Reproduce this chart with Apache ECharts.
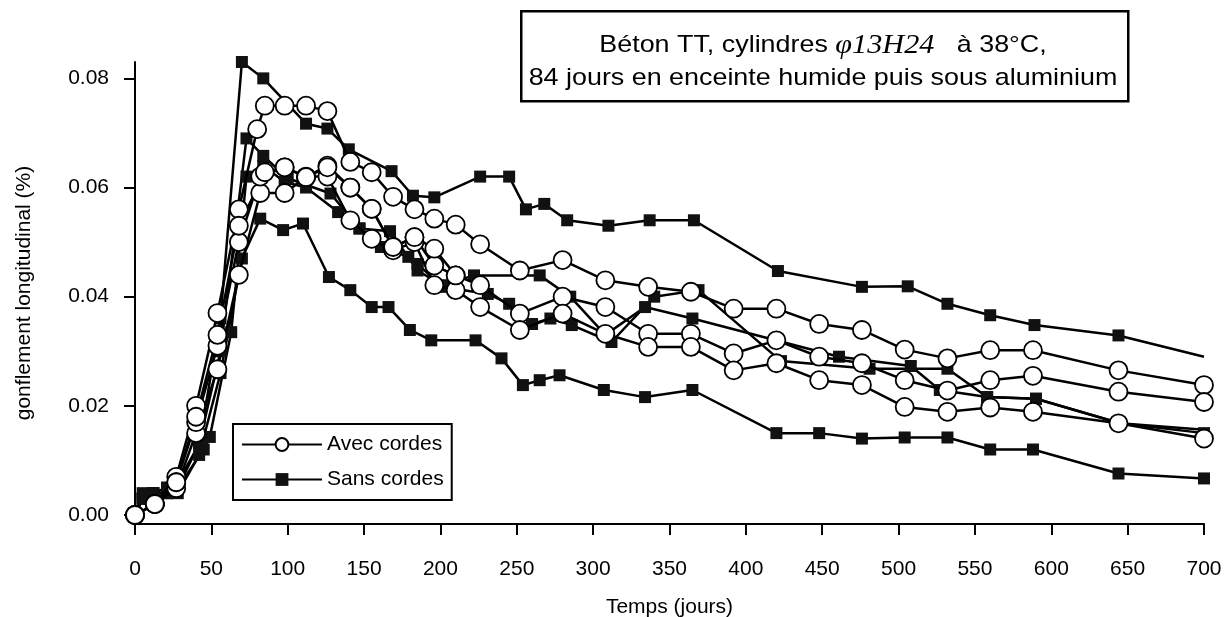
<!DOCTYPE html>
<html>
<head>
<meta charset="utf-8">
<script src="https://cdn.jsdelivr.net/npm/echarts@6/dist/echarts.min.js"></script>
<style>
html,body{margin:0;padding:0;background:#fff;}
#main{width:1231px;height:617px;}
</style>
</head>
<body>
<div id="main"></div>
<script>
// [jours, gonflement %]
var avec1 = [[0,0],[13,0.002],[27,0.007],[40,0.020],[54,0.037],[68,0.056],[80,0.0707],[85,0.075],[98,0.075],[112,0.075],[126,0.074],[141,0.0647],[155,0.0628],[169,0.0583],[183,0.056],[196,0.0543],[210,0.0532],[226,0.0496],[252,0.0448],[280,0.0467],[308,0.043],[336,0.0418],[364,0.0409],[392,0.0378],[420,0.0378],[448,0.035],[476,0.0339],[504,0.0303],[532,0.0287],[560,0.0302],[588,0.0302],[644,0.0265],[700,0.0238]];
var avec2 = [[0,0],[13,0.002],[27,0.0049],[40,0.015],[54,0.0267],[68,0.044],[82,0.059],[98,0.059],[112,0.0619],[126,0.064],[141,0.060],[155,0.0561],[169,0.0491],[183,0.0509],[196,0.0457],[210,0.0439],[226,0.0421],[252,0.0369],[280,0.040],[308,0.0381],[336,0.0332],[364,0.0332],[392,0.0296],[420,0.032],[448,0.029],[476,0.0278],[504,0.0247],[532,0.0228],[560,0.0247],[588,0.0255],[644,0.0226],[700,0.0207]];
var avec3 = [[0,0],[13,0.002],[27,0.006],[40,0.017],[54,0.031],[68,0.05],[82,0.062],[98,0.0637],[112,0.062],[126,0.062],[141,0.054],[155,0.0506],[169,0.0485],[183,0.05],[196,0.0421],[210,0.0412],[226,0.0381],[252,0.0339],[280,0.0369],[308,0.0332],[336,0.0308],[364,0.0308],[392,0.0265],[420,0.0278],[448,0.0247],[476,0.0238],[504,0.0198],[532,0.0189],[560,0.0197],[588,0.0189],[644,0.0168],[700,0.014]];
var avec4 = [[0,0],[13,0.002],[27,0.006],[40,0.018],[54,0.033],[68,0.053],[85,0.0628],[98,0.0637],[112,0.0619],[126,0.0637],[141,0.060],[155,0.0561],[169,0.0491],[183,0.0509],[196,0.0488],[210,0.0439]];

var sans1 = [[0,0],[5,0.003],[12,0.004],[21,0.005],[28,0.006],[42,0.013],[56,0.036],[70,0.083],[84,0.080],[112,0.0717],[126,0.0708],[140,0.067],[168,0.063],[182,0.0585],[196,0.0582],[226,0.062],[245,0.062],[256,0.056],[268,0.057],[283,0.054],[310,0.053],[337,0.054],[366,0.054],[421,0.0447],[476,0.0418],[506,0.0419],[532,0.0387],[560,0.0366],[589,0.0348],[644,0.0329],[700,0.029]];
var sans2 = [[0,0],[5,0.004],[12,0.004],[21,0.005],[28,0.005],[42,0.013],[56,0.030],[73,0.069],[84,0.0658],[100,0.0617],[128,0.0589],[147,0.0525],[161,0.0491],[179,0.0473],[185,0.046],[201,0.0418],[231,0.0405],[245,0.0387],[260,0.035],[272,0.036],[286,0.0348],[312,0.0317],[340,0.040],[369,0.0412],[423,0.0282],[481,0.0268],[532,0.0268],[558,0.0216],[590,0.0213],[645,0.0168],[700,0.0156]];
var sans3 = [[0,0],[5,0.003],[12,0.004],[21,0.004],[28,0.005],[45,0.012],[49,0.0143],[63,0.0335],[73,0.062],[84,0.064],[98,0.061],[112,0.060],[133,0.0555],[147,0.0525],[167,0.052],[185,0.0448],[201,0.0421],[222,0.0439],[265,0.0439],[285,0.040],[308,0.033],[334,0.0381],[365,0.036],[461,0.029],[508,0.0273],[527,0.0229],[558,0.0216],[590,0.0213],[645,0.0168],[700,0.015]];
var sans4 = [[0,0],[5,0.003],[12,0.003],[21,0.004],[28,0.004],[42,0.011],[56,0.026],[70,0.047],[82,0.0543],[97,0.0522],[110,0.0534],[127,0.0436],[141,0.0412],[155,0.0381],[166,0.0381],[180,0.0339],[194,0.032],[223,0.032],[240,0.0287],[254,0.0238],[265,0.0247],[278,0.0256],[307,0.0229],[334,0.0216],[365,0.0229],[420,0.015],[448,0.015],[476,0.014],[504,0.0142],[532,0.0142],[560,0.012],[588,0.012],[644,0.0076],[700,0.0067]];

var yTicks = [0, 0.02, 0.04, 0.06, 0.08];

var myChart = echarts.init(document.getElementById('main'));

// une serie par eprouvette ; lastBare = pas de marqueur au dernier point
function makeSeries(name, data, isAvec, lastBare) {
    var d = data.map(function (p, i) {
        if (lastBare && i === data.length - 1) {
            return {value: p, symbol: 'none'};
        }
        return p;
    });
    return {
        name: name,
        type: 'line',
        data: d,
        symbol: isAvec ? 'circle' : 'rect',
        symbolSize: isAvec ? 18 : 12,
        showAllSymbol: true,
        z: isAvec ? 3 : 2,
        lineStyle: {color: '#000', width: 2.5},
        itemStyle: isAvec ? {color: '#fff', borderColor: '#000', borderWidth: 1.8}
                          : {color: '#111', borderColor: '#111', borderWidth: 0}
    };
}

var font = 'Liberation Sans';

var option = {
    animation: false,
    backgroundColor: '#fff',
    grid: {left: 135, right: 27, top: 62, bottom: 93, outerBoundsMode: 'none'},
    legend: {
        orient: 'vertical',
        left: 233,
        top: 424,
        data: ['Avec cordes', 'Sans cordes'],
        borderColor: '#000',
        borderWidth: 2,
        padding: [10, 8, 10, 8],
        itemWidth: 80,
        itemHeight: 16,
        itemGap: 14,
        textStyle: {fontFamily: font, fontSize: 21, color: '#000'}
    },
    xAxis: {
        type: 'value',
        min: 0,
        max: 700,
        interval: 50,
        name: 'Temps (jours)',
        nameLocation: 'middle',
        nameGap: 73,
        nameTextStyle: {fontFamily: font, fontSize: 21, color: '#000'},
        axisLine: {onZero: false, lineStyle: {color: '#000', width: 2}},
        axisTick: {length: 11, lineStyle: {color: '#000', width: 2}},
        axisLabel: {margin: 35, fontFamily: font, fontSize: 21, color: '#000'},
        splitLine: {show: false}
    },
    yAxis: {
        type: 'value',
        min: -0.00165,
        max: 0.083,
        name: 'gonflement longitudinal (%)',
        nameLocation: 'middle',
        nameGap: 100,
        nameTextStyle: {fontFamily: font, fontSize: 21, color: '#000'},
        axisLine: {onZero: false, lineStyle: {color: '#000', width: 2}},
        axisTick: {length: 11, customValues: yTicks, lineStyle: {color: '#000', width: 2}},
        axisLabel: {
            margin: 26, fontFamily: font, fontSize: 21, color: '#000',
            customValues: yTicks,
            formatter: function (v) { return v.toFixed(2); }
        },
        splitLine: {show: false}
    },
    graphic: [
        {
            type: 'rect',
            left: 520, top: 10,
            shape: {width: 607, height: 90},
            style: {fill: '#fff', stroke: '#000', lineWidth: 2.5},
            z: 10
        },
        {
            type: 'text',
            x: 823, y: 62,
            scaleX: 1.12,
            style: {
                text: 'Béton TT, cylindres {i|φ13H24}   à 38°C,\n84 jours en enceinte humide puis sous aluminium',
                fontFamily: font,
                fontSize: 24,
                lineHeight: 33,
                fill: '#000',
                align: 'center',
                verticalAlign: 'middle',
                rich: {
                    i: {fontFamily: 'Liberation Serif', fontStyle: 'italic', fontSize: 27, fill: '#000'}
                }
            },
            z: 11
        }
    ],
    series: [
        makeSeries('Sans cordes', sans1, false, true),
        makeSeries('Sans cordes', sans2, false, true),
        makeSeries('Sans cordes', sans3, false, false),
        makeSeries('Sans cordes', sans4, false, false),
        makeSeries('Avec cordes', avec1, true, false),
        makeSeries('Avec cordes', avec2, true, false),
        makeSeries('Avec cordes', avec3, true, false),
        makeSeries('Avec cordes', avec4, true, false)
    ]
};
myChart.setOption(option);
</script>
</body>
</html>
